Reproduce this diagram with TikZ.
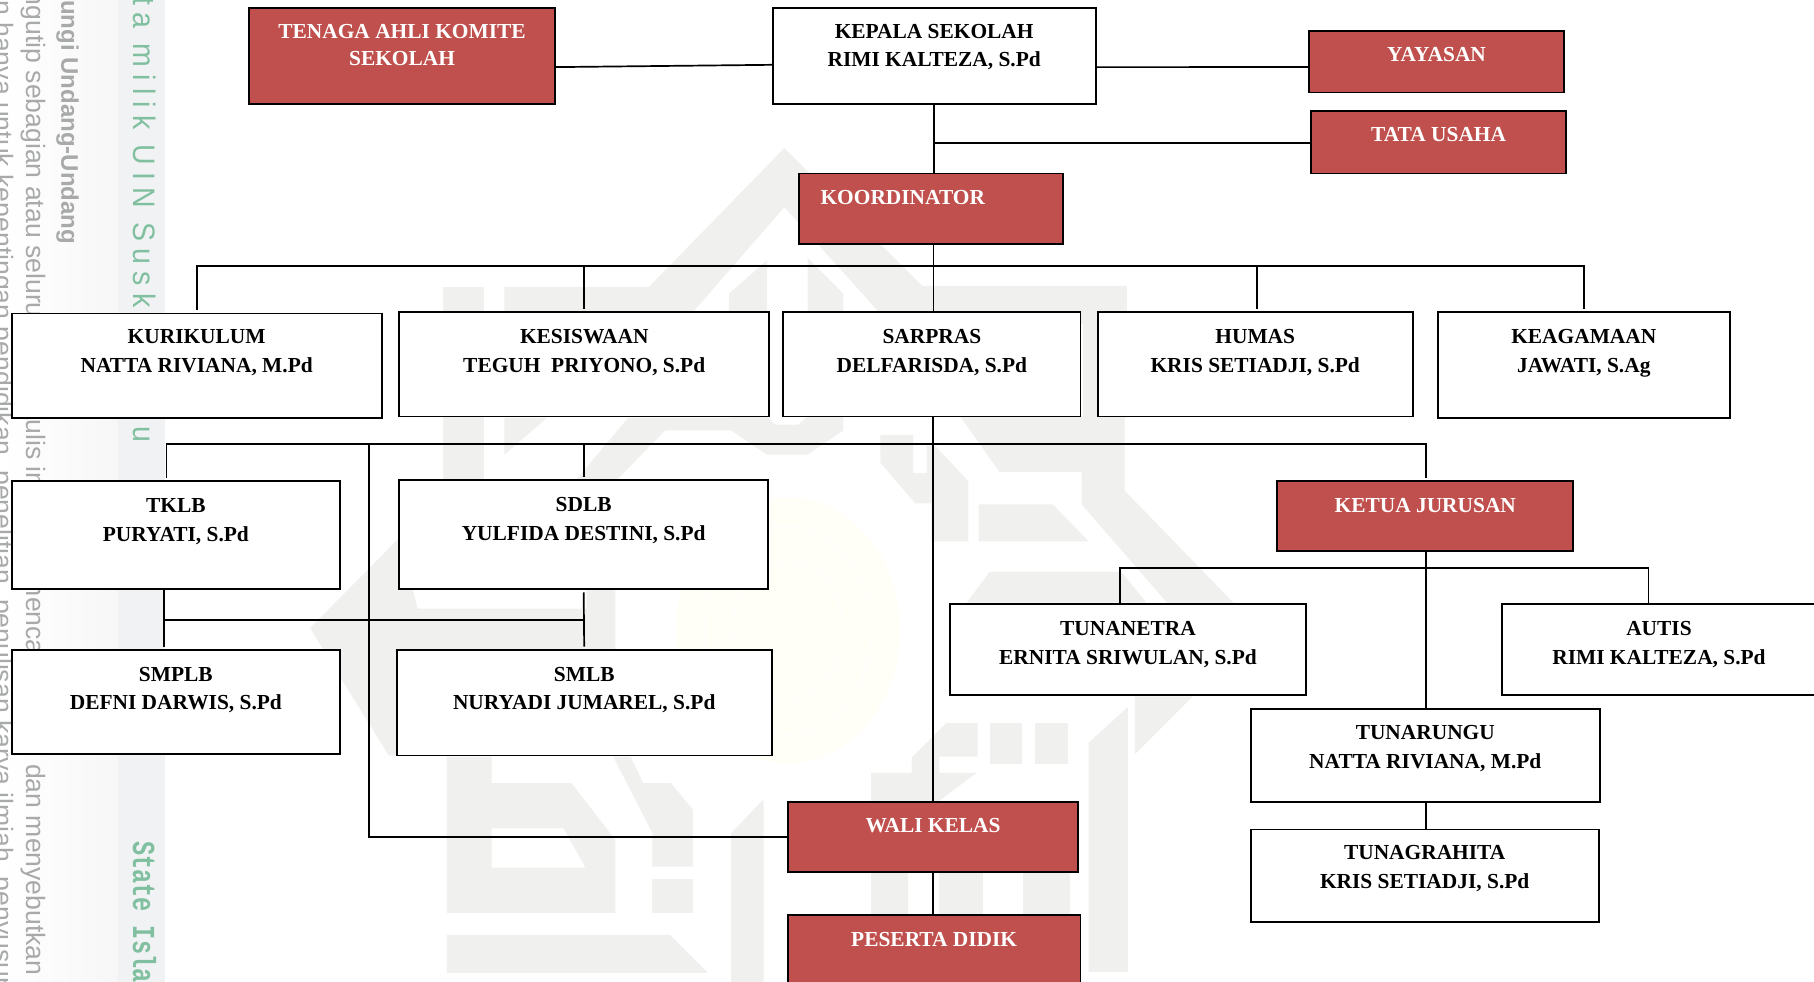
\documentclass[tikz,border=0pt]{standalone}
\usepackage{fontspec}
\setmainfont{Liberation Serif}
\newfontfamily\sidesans{Liberation Sans}
\newfontfamily\greensans[LetterSpace=25]{Liberation Sans}
\newfontfamily\greenmono{Liberation Mono}
\definecolor{redbox}{HTML}{C0504D}
\definecolor{wm}{HTML}{F0F1EE}
\definecolor{sidegray}{HTML}{A8A9A9}
\definecolor{sidegreen}{HTML}{80BF9F}
\definecolor{bandA}{HTML}{F1F2F3}
\definecolor{bandB}{HTML}{F7F7F8}
\definecolor{pale}{HTML}{FFFFF8}
\tikzset{
  x=1.1569pt,y=-1.1569pt,
  labelfont/.style={font=\fontsize{21.4}{29}\selectfont\bfseries},
  plainbox/.style={draw=black,line width=1.9pt,fill=white,text=black,inner sep=0pt,outer sep=0pt,labelfont},
  redboxx/.style={draw=black,line width=1.9pt,fill=redbox,text=white,inner sep=0pt,outer sep=0pt,labelfont},
  link/.style={draw=black,line width=1.7pt},
  endgap/.style={shorten >=3.5pt},
  startgap/.style={shorten <=3.5pt},
  wmshape/.style={fill=wm,draw=none},
  wmhole/.style={fill=white,draw=none},
  sidetext/.style={rotate=-90,anchor=base west,inner sep=0pt,text=sidegray,font=\sidesans\fontsize{26.6}{26.6}\selectfont},
  greentext/.style={rotate=-90,anchor=base west,inner sep=0pt,text=sidegreen},
}
\newcommand\bx[8]{%
  \pgfmathsetmacro\bw{(#4-#2)*1.1569}%
  \pgfmathsetmacro\bh{(#5-#3)*1.1569}%
  \pgfmathsetmacro\bo{(#7+7-#3)*1.1569}%
  \node[#6,anchor=north west] (#1) at (#2,#3) {\parbox[t][\bh pt][t]{\bw pt}{\centering\rule{0pt}{\bo pt}#8}};%
}
\begin{document}
\begin{tikzpicture}
\useasboundingbox (0,0) rectangle (1568,848.8);
\clip (0,0) rectangle (1568,848.8);
\fill[white] (0,0) rectangle (1568,848.8);
% side bands
\shade[left color=white,right color=bandB,draw=none] (0,0) rectangle (102,848.8);
\fill[bandA] (102,0) rectangle (143,848.8);
% pale emblem
\fill[pale] (681,545) ellipse (97 and 115);
\draw[white,line width=1pt] (681,545) ellipse (72 and 90);
\draw[white,line width=1pt] (681,545) ellipse (48 and 60);
% watermark: roof
\fill[wmshape] (436,248)--(561,248)--(678,128)--(797,247)--(974,247)--(974,280)--(769,280)--(678,179)--(590,280)--(436,280)--cycle;
\fill[wmshape] (936,247)--(973,247)--(973,361)--(936,361)--cycle;
\fill[wmshape] (630,254)--(663,225)--(663,280)--(630,280)--cycle;
\fill[wmshape] (698,223)--(729,254)--(729,280)--(698,280)--cycle;
\fill[wmshape] (383,248)--(418,248)--(418,416)--(383,416)--cycle;
% watermark: between the rows
\fill[wmshape] (436,361)--(473,361)--(436,393)--cycle;
\fill[wmshape] (543,361)--(632,361)--(632,372)--(575,372)--(532,416)--(497,416)--cycle;
\fill[wmshape] (632,360)--(663,360)--(670,367)--(690,367)--(698,360)--(729,360)--(729,372)--(698,393)--(663,393)--(632,372)--cycle;
\fill[wmshape] (761,376)--(789.5,376)--(789.5,409)--(801,409)--(801,385)--(808,385)--(837,416)--(837,468)--(805,468)--(805,435)--(791,435)--(761,400)--cycle;
\fill[wmshape] (846,436)--(910,436)--(941,468)--(846,468)--cycle;
\fill[wmshape] (830,360)--(972,360)--(972,424)--(1072,527)--(1014,527)--(935,436)--(935,408)--(864,408)--cycle;
\fill[wmshape] (835.6,521)--(855.7,494)--(969,494)--(991,521)--cycle;
% watermark: left tip
\fill[wmshape] (268,543)--(345,465)--(361,526)--(507,526)--(507,510)--(532,510)--(532,562)--(345,562)--(345,653)--(336,653)--cycle;
% watermark: lower left
\fill[wmshape] (386,654)--(425,654)--(425,677)--(494,677)--(532,726)--(532,789)--(386,789)--cycle;
\fill[wmhole] (425,716)--(487,716)--(506,750)--(425,750)--cycle;
\fill[wmshape] (386,808)--(579,808)--(612,841)--(386,841)--cycle;
\fill[wmshape] (564,760)--(599,760)--(599,789)--(564,789)--cycle;
\fill[wmshape] (530,654)--(545,654)--(556,677)--(580,677)--(599,700)--(599,749)--(564,749)--(564,720)--cycle;
\fill[wmshape] (632,720)--(660,691)--(660,848.8)--(632,848.8)--cycle;
% watermark: lower right
\fill[wmshape] (753,668)--(788,668)--(788,655)--(818,625)--(845,625)--(845,654)--(812,654)--(812,668)--(844,668)--(812,692)--(785,720)--(785,848.8)--(753,848.8)--cycle;
\fill[wmshape] (812,692)--(850,692)--(850,848.8)--(812,848.8)--cycle;
\fill[wmshape] (884,720)--(925,720)--(925,848.8)--(884,848.8)--cycle;
\fill[wmshape] (856,625)--(883,625)--(883,660)--(856,660)--cycle;
\fill[wmshape] (895,625)--(923,625)--(923,660)--(895,660)--cycle;
\fill[wmshape] (941,642)--(975,611)--(975,840)--(941,840)--cycle;
\fill[wmshape] (981,602)--(1031,602)--(981,652)--cycle;
% side text
\node[sidetext] (sa) at (-5,0) {n hanya untuk kepentingan pendidikan, penelitian, penulisan karya ilmiah, penyusunan};
\node[sidetext] (sb) at (22.5,-8) {ngutip sebagian atau seluruh karya tulis ini tanpa mencantumkan dan menyebutkan};
\node[sidetext,font=\sidesans\bfseries\fontsize{24}{24}\selectfont] (sc) at (53,0) {ungi Undang-Undang};
\node[greentext] (sd) at (115,-2) {\scalebox{.92}[1]{\greensans\fontsize{31}{31}\selectfont ta milik UIN Suska Ria\hspace{26pt}u}};
\node[greentext] (se) at (115,727) {\scalebox{.735}[1]{\greenmono\bfseries\fontsize{32}{32}\selectfont State Islamic}};
% boxes
\bx{tenaga}{215}{7}{480}{90}{redboxx}{26.5}{\setlength\baselineskip{26.7pt}TENAGA AHLI KOMITE\\SEKOLAH}
\bx{kepala}{668}{7}{947}{90}{plainbox}{26.5}{\setlength\baselineskip{27.6pt}KEPALA SEKOLAH\\RIMI KALTEZA, S.Pd}
\bx{yayasan}{1131.5}{27}{1352}{80}{redboxx}{46}{YAYASAN}
\bx{tata}{1133}{96}{1354}{150}{redboxx}{115}{TATA USAHA}
\bx{koord}{691}{150}{919}{211}{redboxx}{170}{\hspace*{-57pt}KOORDINATOR}
\bx{kurik}{10}{271}{330}{361}{plainbox}{290}{KURIKULUM\\NATTA RIVIANA, M.Pd}
\bx{kesis}{345}{270}{665}{360}{plainbox}{290}{KESISWAAN\\TEGUH\ \ PRIYONO, S.Pd}
\bx{sarpras}{677}{270}{934}{360}{plainbox}{290}{SARPRAS\\DELFARISDA, S.Pd}
\bx{humas}{949}{270}{1221}{360}{plainbox}{290}{HUMAS\\KRIS SETIADJI, S.Pd}
\bx{keag}{1243}{270}{1495}{361}{plainbox}{290}{KEAGAMAAN\\JAWATI, S.Ag}
\bx{tklb}{10}{416}{294}{509}{plainbox}{436}{TKLB\\PURYATI, S.Pd}
\bx{sdlb}{345}{415}{664}{509}{plainbox}{435}{SDLB\\YULFIDA DESTINI, S.Pd}
\bx{smplb}{10}{562}{294}{652}{plainbox}{582}{\setlength\baselineskip{27.8pt}SMPLB\\DEFNI DARWIS, S.Pd}
\bx{smlb}{343}{562}{667}{653}{plainbox}{582}{\setlength\baselineskip{27.8pt}SMLB\\NURYADI JUMAREL, S.Pd}
\bx{ketua}{1104}{416}{1360}{476}{redboxx}{436}{KETUA JURUSAN}
\bx{tunanetra}{821}{522}{1129}{601}{plainbox}{542}{TUNANETRA\\ERNITA SRIWULAN, S.Pd}
\bx{autis}{1298}{522}{1570}{601}{plainbox}{542}{AUTIS\\RIMI KALTEZA, S.Pd}
\bx{tunarungu}{1081}{613}{1383}{693}{plainbox}{632}{TUNARUNGU\\NATTA RIVIANA, M.Pd}
\bx{tunagrahita}{1081}{717}{1382}{797}{plainbox}{736}{TUNAGRAHITA\\KRIS SETIADJI, S.Pd}
\bx{wali}{681}{693}{932}{754}{redboxx}{713}{WALI KELAS}
\bx{peserta}{681}{791}{934}{870}{redboxx}{811}{PESERTA DIDIK}
% junctions
\coordinate (busA) at (807,230);
\coordinate (busB) at (807,384);
\coordinate (busL) at (319,384);
\coordinate (midS) at (142,536);
\coordinate (busC) at (1233,491);
% connectors
\draw[link] ([yshift=-11pt]tenaga.east) -- ([yshift=-8.7pt]kepala.west);
\draw[link] ([yshift=-11pt]kepala.east) -- ([yshift=-5.2pt]yayasan.west);
\draw[link] (kepala.south) -- (kepala.south |- koord.north);
\draw[link] ([yshift=-1pt]kepala.south |- tata.west) -- ([yshift=-1pt]tata.west);
\draw[link] (busA |- koord.south) -- (busA |- sarpras.north);
\draw[link,startgap,endgap] (kurik.north) |- (busA) -| (keag.north);
\draw[link,startgap] (kesis.north) -- (kesis.north |- busA);
\draw[link,startgap] ([xshift=2pt]humas.north) -- ([xshift=2pt]humas.north |- busA);
\draw[link] (wali.north |- sarpras.south) -- (wali.north);
\draw[link] (wali.south) -- (wali.south |- peserta.north);
\draw[link,startgap,endgap] ([xshift=-9.3pt]tklb.north) |- (busB) -| ([xshift=1pt]ketua.north);
\draw[link,startgap] (sdlb.north) -- (sdlb.north |- busB);
\draw[link] (busL) |- (wali.west);
\draw[link,endgap] ([xshift=-11.5pt]tklb.south) -- ([xshift=-11.5pt]smplb.north);
\draw[link] (midS) -- (midS -| smlb.north);
\draw[link,startgap,endgap] (sdlb.south) -- (smlb.north);
\draw[link] ([xshift=1pt]ketua.south) -- ([xshift=1pt]ketua.south |- tunarungu.north);
\draw[link] ([xshift=-8pt]tunanetra.north) |- (busC) -| ([xshift=-10.4pt]autis.north);
\draw[link] ([xshift=1pt]tunarungu.south) -- ([xshift=1pt]tunarungu.south |- tunagrahita.north);
\end{tikzpicture}
\end{document}
